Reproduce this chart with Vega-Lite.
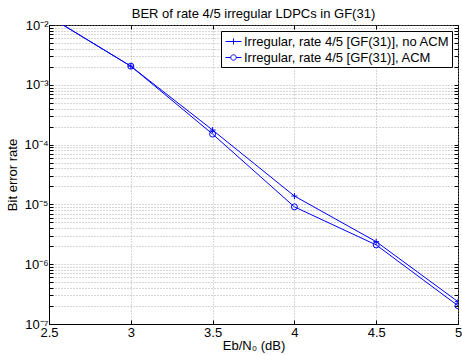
{
  "$schema": "https://vega.github.io/schema/vega-lite/v6.json",
  "autosize": "none",
  "width": 409,
  "height": 299,
  "padding": {"left": 49, "top": 25, "right": 4, "bottom": 31},
  "background": "white",
  "title": {"text": "BER of rate 4/5 irregular LDPCs in GF(31)", "fontSize": 13, "fontWeight": "normal", "font": "Liberation Sans", "color": "black", "offset": -2},
  "config": {
    "view": {"stroke": "black", "strokeWidth": 1},
    "axis": {
      "labelFont": "Liberation Sans", "labelFontSize": 13, "labelColor": "black",
      "titleFont": "Liberation Sans", "titleFontSize": 13, "titleFontWeight": "normal", "titleColor": "black",
      "domainColor": "black", "tickColor": "black", "tickSize": -4,
      "gridColor": "#9a9a9a", "gridDash": [1, 2], "gridWidth": 0.8
    }
  },
  "data": {"values": [
    {"ebn0": 2.5, "ber": 0.0139, "series": "Irregular, rate 4/5 [GF(31)], no ACM"},
    {"ebn0": 3.0, "ber": 0.00205, "series": "Irregular, rate 4/5 [GF(31)], no ACM"},
    {"ebn0": 3.5, "ber": 0.000175, "series": "Irregular, rate 4/5 [GF(31)], no ACM"},
    {"ebn0": 4.0, "ber": 0.0000138, "series": "Irregular, rate 4/5 [GF(31)], no ACM"},
    {"ebn0": 4.5, "ber": 0.00000238, "series": "Irregular, rate 4/5 [GF(31)], no ACM"},
    {"ebn0": 5.0, "ber": 0.000000236, "series": "Irregular, rate 4/5 [GF(31)], no ACM"},
    {"ebn0": 2.5, "ber": 0.0139, "series": "Irregular, rate 4/5 [GF(31)], ACM"},
    {"ebn0": 3.0, "ber": 0.00205, "series": "Irregular, rate 4/5 [GF(31)], ACM"},
    {"ebn0": 3.5, "ber": 0.00015, "series": "Irregular, rate 4/5 [GF(31)], ACM"},
    {"ebn0": 4.0, "ber": 0.0000091, "series": "Irregular, rate 4/5 [GF(31)], ACM"},
    {"ebn0": 4.5, "ber": 0.0000021, "series": "Irregular, rate 4/5 [GF(31)], ACM"},
    {"ebn0": 5.0, "ber": 0.000000202, "series": "Irregular, rate 4/5 [GF(31)], ACM"}
  ]},
  "layer": [
    {
      "mark": {"type": "line", "clip": true, "color": "#0000ff", "strokeWidth": 1},
      "encoding": {
        "x": {"field": "ebn0", "type": "quantitative",
          "scale": {"domain": [2.5, 5], "nice": false, "zero": false},
          "axis": {"values": [2.5, 3, 3.5, 4, 4.5, 5], "title": "Eb/N₀ (dB)", "labelPadding": 6, "titlePadding": 0, "format": "~g", "labelFlush": false}},
        "y": {"field": "ber", "type": "quantitative",
          "scale": {"type": "log", "domain": [1e-7, 1e-2], "nice": false},
          "axis": {"title": "Bit error rate", "titlePadding": 4, "labelPadding": 5, "labelFlush": false,
            "values": [1e-7,2e-7,3e-7,4e-7,5e-7,6e-7,7e-7,8e-7,9e-7,1e-6,2e-6,3e-6,4e-6,5e-6,6e-6,7e-6,8e-6,9e-6,1e-5,2e-5,3e-5,4e-5,5e-5,6e-5,7e-5,8e-5,9e-5,1e-4,2e-4,3e-4,4e-4,5e-4,6e-4,7e-4,8e-4,9e-4,1e-3,2e-3,3e-3,4e-3,5e-3,6e-3,7e-3,8e-3,9e-3,1e-2],
            "labelExpr": "abs(log(datum.value)/LN10 - round(log(datum.value)/LN10)) > 0.001 ? '' : (round(log(datum.value)/LN10) == -2 ? '10⁻²' : round(log(datum.value)/LN10) == -3 ? '10⁻³' : round(log(datum.value)/LN10) == -4 ? '10⁻⁴' : round(log(datum.value)/LN10) == -5 ? '10⁻⁵' : round(log(datum.value)/LN10) == -6 ? '10⁻⁶' : '10⁻⁷')"}},
        "detail": {"field": "series"}
      }
    },
    {
      "mark": {"type": "point", "clip": true, "filled": false, "color": "#0000ff", "strokeWidth": 1, "opacity": 1},
      "encoding": {
        "x": {"field": "ebn0", "type": "quantitative", "axis": null},
        "y": {"field": "ber", "type": "quantitative", "axis": null},
        "shape": {"condition": {"test": "datum.series === 'Irregular, rate 4/5 [GF(31)], no ACM'", "value": "M-1,0H1M0,-1V1"}, "value": "circle"},
        "size": {"value": 36}
      }
    },
    {
      "mark": {"type": "point", "clip": true, "filled": false, "color": "#0000ff", "strokeWidth": 1, "opacity": 0},
      "encoding": {
        "x": {"field": "ebn0", "type": "quantitative",
          "axis": {"orient": "top", "values": [2.5, 3, 3.5, 4, 4.5, 5], "labels": false, "title": null, "grid": false, "domain": false}},
        "y": {"field": "ber", "type": "quantitative",
          "axis": {"orient": "right", "labels": false, "title": null, "grid": false, "domain": false,
            "values": [1e-7,2e-7,3e-7,4e-7,5e-7,6e-7,7e-7,8e-7,9e-7,1e-6,2e-6,3e-6,4e-6,5e-6,6e-6,7e-6,8e-6,9e-6,1e-5,2e-5,3e-5,4e-5,5e-5,6e-5,7e-5,8e-5,9e-5,1e-4,2e-4,3e-4,4e-4,5e-4,6e-4,7e-4,8e-4,9e-4,1e-3,2e-3,3e-3,4e-3,5e-3,6e-3,7e-3,8e-3,9e-3,1e-2]}},
        "shape": {"field": "series", "type": "nominal",
          "scale": {"domain": ["Irregular, rate 4/5 [GF(31)], no ACM", "Irregular, rate 4/5 [GF(31)], ACM"],
                    "range": ["M-1,0H1M0,-0.375V0.375", "M-1,0H-0.34A0.34,0.34 0 1,1 0.34,0A0.34,0.34 0 1,1 -0.34,0M0.34,0H1"]},
          "legend": {
            "title": null, "orient": "top-right", "offset": 6,
            "strokeColor": "black", "fillColor": "white", "padding": 2,
            "labelFont": "Liberation Sans", "labelFontSize": 13, "labelColor": "black", "labelLimit": 0,
            "symbolSize": 256, "symbolStrokeColor": "#0000ff", "symbolFillColor": "transparent", "symbolStrokeWidth": 1, "symbolOpacity": 1,
            "symbolOffset": 2, "rowPadding": 0, "labelOffset": 2,
            "encode": {"symbols": {"stroke": {"value": "#0000ff"}, "opacity": {"value": 1}}}
          }
        }
      }
    }
  ],
  "resolve": {"axis": {"x": "independent", "y": "independent"}}
}
